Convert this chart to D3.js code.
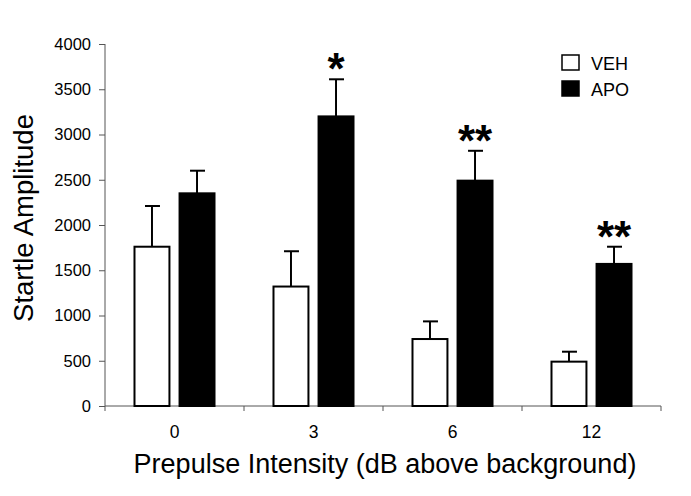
<!DOCTYPE html>
<html>
<head>
<meta charset="utf-8">
<script src="https://cdn.jsdelivr.net/npm/d3@7"></script>
<style>
  body { margin: 0; background: #fff; }
  svg { font-family: Arial, "Liberation Sans", sans-serif; }
  .axis path, .axis line { stroke: #555; }
  .axis text { fill: #000; }
</style>
</head>
<body>
<div class="chart"></div>
<script>
var width = 691,
  height = 496;

// data
var intensities = ['0', '3', '6', '12'];
var groups = ['VEH', 'APO'];
var vehMean = [1760, 1320, 740, 490];
var vehErr = [450, 390, 195, 110];
var apoMean = [2350, 3200, 2490, 1570];
var apoErr = [250, 410, 330, 190];
var stars = ['', '*', '**', '**'];
var yTicks = [0, 500, 1000, 1500, 2000, 2500, 3000, 3500, 4000];

var rows = intensities.map(function (d, i) {
  return {
    key: d,
    bars: [
      { group: 'VEH', mean: vehMean[i], err: vehErr[i] },
      { group: 'APO', mean: apoMean[i], err: apoErr[i] }
    ],
    star: stars[i]
  };
});

var svg = d3.select('.chart')
  .append('svg')
  .attr('width', width)
  .attr('height', height);

var x0 = d3.scaleBand()
  .domain(intensities)
  .range([105, 661])
  .paddingInner(0.41)
  .paddingOuter(0.205);

var x1 = d3.scaleBand()
  .domain(groups)
  .range([0, x0.bandwidth()])
  .paddingInner(0.18);

var yScale = d3.scaleLinear()
  .domain([0, 4000])
  .range([406, 44]);

var fill = { VEH: '#fff', APO: '#000' };

//y axis
var yAxis = d3.axisLeft(yScale)
  .tickValues(yTicks)
  .tickFormat(d3.format('d'))
  .tickSize(6)
  .tickPadding(8);

svg.append('g')
  .attr('class', 'axis y')
  .attr('transform', 'translate(105,0)')
  .call(yAxis)
  .call(function (g) {
    g.select('.domain').attr('d', 'M0,44V406');
    g.selectAll('text').attr('font-size', 16.5);
  });

//x axis: ticks sit between groups
svg.append('g')
  .attr('class', 'axis x')
  .attr('transform', 'translate(0,406)')
  .call(function (g) {
    g.append('line')
      .attr('x1', 105).attr('x2', 661)
      .attr('stroke', '#555');
    var edges = intensities.map(function (d) {
      return x0(d) - x0.step() * x0.paddingInner() / 2;
    }).concat([661]);
    g.selectAll('.tk')
      .data(edges)
      .enter()
      .append('line')
      .attr('x1', function (d) { return d; })
      .attr('x2', function (d) { return d; })
      .attr('y1', 0)
      .attr('y2', 5)
      .attr('stroke', '#555');
    g.selectAll('text')
      .data(intensities)
      .enter()
      .append('text')
      .attr('x', function (d) { return x0(d) + x0.bandwidth() / 2; })
      .attr('y', 32)
      .attr('text-anchor', 'middle')
      .attr('font-size', 17.5)
      .text(function (d) { return d; });
  });

var grp = svg.selectAll('.grp')
  .data(rows)
  .enter()
  .append('g')
  .attr('class', 'grp')
  .attr('transform', function (d) { return 'translate(' + x0(d.key) + ',0)'; });

//error bars first, bars cover the bottom of them
var eb = grp.selectAll('.err')
  .data(function (d) { return d.bars; })
  .enter()
  .append('g')
  .attr('class', 'err')
  .attr('stroke', '#000')
  .attr('stroke-width', 2);

eb.append('line')
  .attr('x1', function (d) { return x1(d.group) + x1.bandwidth() / 2; })
  .attr('x2', function (d) { return x1(d.group) + x1.bandwidth() / 2; })
  .attr('y1', function (d) { return yScale(d.mean); })
  .attr('y2', function (d) { return yScale(d.mean + d.err); });

eb.append('line')
  .attr('x1', function (d) { return x1(d.group) + x1.bandwidth() / 2 - 7; })
  .attr('x2', function (d) { return x1(d.group) + x1.bandwidth() / 2 + 8; })
  .attr('y1', function (d) { return yScale(d.mean + d.err); })
  .attr('y2', function (d) { return yScale(d.mean + d.err); });

grp.selectAll('rect')
  .data(function (d) { return d.bars; })
  .enter()
  .append('rect')
  .attr('x', function (d) { return x1(d.group) + 1; })
  .attr('width', x1.bandwidth() - 2)
  .attr('y', function (d) { return yScale(d.mean); })
  .attr('height', function (d) { return yScale(0) - yScale(d.mean); })
  .attr('fill', function (d) { return fill[d.group]; })
  .attr('stroke', '#000')
  .attr('stroke-width', 2);

//significance stars
grp.append('text')
  .attr('x', x1('APO') + x1.bandwidth() / 2)
  .attr('y', function (d) { return yScale(d.bars[1].mean + d.bars[1].err) + 5; })
  .attr('text-anchor', 'middle')
  .attr('font-size', 44)
  .attr('font-weight', 'bold')
  .text(function (d) { return d.star; });

//legend
var legend = svg.selectAll('.legend')
  .data(groups)
  .enter()
  .append('g')
  .attr('class', 'legend')
  .attr('transform', function (d, i) { return 'translate(562,' + (55 + i * 26) + ')'; });

legend.append('rect')
  .attr('width', 17)
  .attr('height', 15)
  .attr('fill', function (d) { return fill[d]; })
  .attr('stroke', '#000')
  .attr('stroke-width', 1.5);

legend.append('text')
  .attr('x', 29)
  .attr('y', 15)
  .attr('font-size', 18)
  .text(function (d) { return d; });

//axis titles
svg.append('text')
  .attr('x', 385)
  .attr('y', 473)
  .attr('text-anchor', 'middle')
  .attr('font-size', 27)
  .text('Prepulse Intensity (dB above background)');

svg.append('text')
  .attr('transform', 'translate(33,218) rotate(-90)')
  .attr('text-anchor', 'middle')
  .attr('font-size', 27.5)
  .text('Startle Amplitude');
</script>
</body>
</html>
